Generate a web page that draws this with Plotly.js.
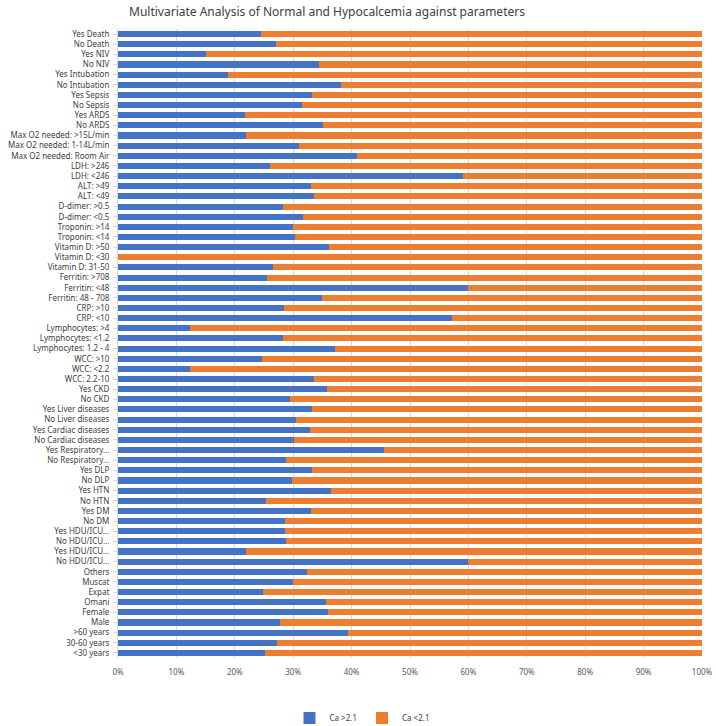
<!DOCTYPE html>
<html>
<head>
<meta charset="utf-8">
<script src="https://cdn.plot.ly/plotly-3.0.1.min.js"></script>
<style>html,body{margin:0;padding:0;background:#fff;}#chart{width:716px;height:726px;}</style>
</head>
<body>
<div id="chart"></div>
<script>
// Categories listed from top to bottom
const categories = [
  "Yes Death","No Death","Yes NIV","No NIV","Yes Intubation","No Intubation",
  "Yes Sepsis","No Sepsis","Yes ARDS","No ARDS",
  "Max O2 needed: >15L/min","Max O2 needed: 1-14L/min","Max O2 needed: Room Air",
  "LDH: >246","LDH: <246","ALT: >49","ALT: <49","D-dimer: >0.5","D-dimer: <0.5",
  "Troponin: >14","Troponin: <14","Vitamin D: >50","Vitamin D: <30","Vitamin D: 31-50",
  "Ferritin: >708","Ferritin: <48","Ferritin: 48 - 708","CRP: >10","CRP: <10",
  "Lymphocytes: >4","Lymphocytes: <1.2","Lymphocytes: 1.2 - 4",
  "WCC: >10","WCC: <2.2","WCC: 2.2-10","Yes CKD","No CKD",
  "Yes Liver diseases","No Liver diseases","Yes Cardiac diseases","No Cardiac diseases",
  "Yes Respiratory...","No Respiratory...","Yes DLP","No DLP","Yes HTN","No HTN",
  "Yes DM","No DM","Yes HDU/ICU...","No HDU/ICU...","Yes HDU/ICU...","No HDU/ICU...",
  "Others","Muscat","Expat","Omani","Female","Male",
  ">60 years","30-60 years","<30 years"
];
// Percentage of Ca >2.1 (normal)
const caNormal = [
  24.5, 27.0, 15.1, 34.5, 18.9, 38.2,
  33.3, 31.5, 21.7, 35.1,
  22.0, 31.0, 40.9,
  26.0, 59.1, 33.0, 33.6, 28.3, 31.7,
  30.0, 30.3, 36.1, 0.0, 26.6,
  25.5, 60.0, 35.0, 28.4, 57.2,
  12.4, 28.3, 37.2,
  24.7, 12.4, 33.6, 35.8, 29.4,
  33.3, 30.4, 32.9, 30.1,
  45.5, 28.8, 33.3, 29.8, 36.5, 25.3,
  33.0, 28.6, 28.6, 28.8, 22.0, 60.0,
  32.4, 30.0, 24.8, 35.7, 35.9, 27.7,
  39.4, 27.3, 25.1
];
// Percentage of Ca <2.1 (hypocalcemia)
const caLow = caNormal.map(v => 100 - v);
const seriesNames = ["Ca >2.1", "Ca <2.1"];
const xTickVals = [0,10,20,30,40,50,60,70,80,90,100];
const xTickText = ["0%","10%","20%","30%","40%","50%","60%","70%","80%","90%","100%"];

const pos = categories.map((c, i) => i);

const traces = [
  {type:"bar", orientation:"h", name:seriesNames[0], x:caNormal, y:pos,
   marker:{color:"#4472C4"}, width:0.6, hoverinfo:"x+name"},
  {type:"bar", orientation:"h", name:seriesNames[1], x:caLow, y:pos,
   marker:{color:"#ED7D31"}, width:0.6, hoverinfo:"x+name"}
];

const layout = {
  width:716, height:726,
  margin:{l:118, r:14, t:29, b:68, pad:0},
  paper_bgcolor:"#fff", plot_bgcolor:"#fff",
  font:{family:"Noto Sans, Open Sans, sans-serif", size:8, color:"#404040"},
  title:{text:"Multivariate Analysis of Normal and Hypocalcemia against parameters",
         font:{size:12, color:"#404040", family:"Noto Sans, Open Sans, sans-serif"},
         x:327/716, xref:"container", xanchor:"center", y:1-12/726, yref:"container", yanchor:"middle"},
  barmode:"stack", bargap:0.4,
  showlegend:true,
  legend:{orientation:"h", x:362/716, xref:"container", xanchor:"center",
          y:1-718/726, yref:"container", yanchor:"middle",
          font:{size:8, color:"#404040"}, traceorder:"normal", itemwidth:30},
  xaxis:{range:[0,100], tickvals:xTickVals, ticktext:xTickText,
         showgrid:true, gridcolor:"#d9d9d9", gridwidth:1, zeroline:false,
         showline:false, ticks:"", ticklabelstandoff:8,
         tickfont:{size:8, color:"#595959"}, fixedrange:true},
  yaxis:{tickvals:pos, ticktext:categories, autorange:false, range:[61.5,-0.5],
         showgrid:false, zeroline:false, showline:true, linecolor:"#d9d9d9", linewidth:1,
         ticks:"outside", ticklen:4, tickcolor:"#d9d9d9", ticklabelstandoff:2,
         tickfont:{size:8, color:"#404040"}, fixedrange:true}
};

Plotly.newPlot("chart", traces, layout, {displayModeBar:false, staticPlot:true});
</script>
</body>
</html>
